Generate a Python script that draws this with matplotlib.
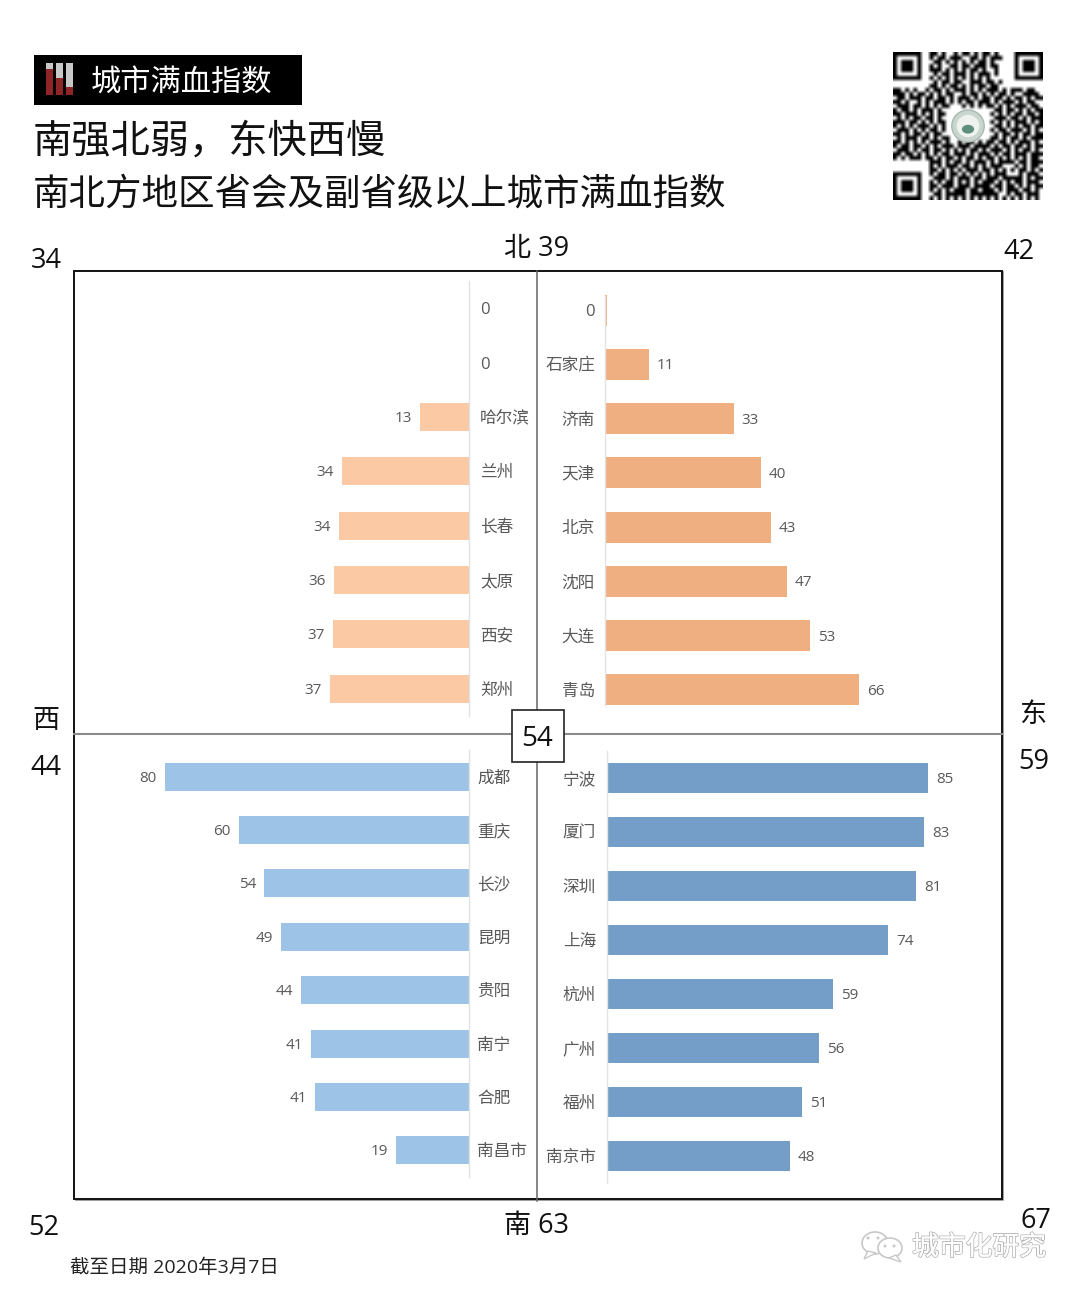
import numpy as np
import matplotlib
matplotlib.use("Agg")
import matplotlib.pyplot as plt
from matplotlib.patches import Rectangle, Ellipse, Polygon
import matplotlib.patheffects as pe

FONT = ["Open Sans", "Noto Sans CJK SC", "DejaVu Sans"]
plt.rcParams["font.family"] = FONT

W, H = 1080, 1294

# 四个象限的数据 (values = 量出的条长, labels = 图上印的数字)
nw_cities = ["0", "0", "哈尔滨", "兰州", "长春", "太原", "西安", "郑州"]
nw_values = [0, 0, 12.9, 33.4, 34.2, 35.5, 35.8, 36.6]
nw_labels = ["", "", "13", "34", "34", "36", "37", "37"]

ne_cities = ["0", "石家庄", "济南", "天津", "北京", "沈阳", "大连", "青岛"]
ne_values = [0.5, 11.4, 33.4, 40.4, 43.1, 47.3, 53.2, 66.0]
ne_labels = ["", "11", "33", "40", "43", "47", "53", "66"]

sw_cities = ["成都", "重庆", "长沙", "昆明", "贵阳", "南宁", "合肥", "南昌市"]
sw_values = [79.8, 60.4, 53.8, 49.3, 44.1, 41.5, 40.4, 19.2]
sw_labels = ["80", "60", "54", "49", "44", "41", "41", "19"]

se_cities = ["宁波", "厦门", "深圳", "上海", "杭州", "广州", "福州", "南京市"]
se_values = [84.3, 83.2, 81.1, 73.8, 59.3, 55.6, 51.2, 48.0]
se_labels = ["85", "83", "81", "74", "59", "56", "51", "48"]

# 外圈指数
corner_texts = [
    ("34", 46, 261), ("北 39", 537, 249), ("42", 1019, 252),
    ("西", 46, 721), ("44", 46, 768), ("东", 1033, 715), ("59", 1034, 762),
    ("52", 44, 1228), ("南 63", 537, 1226), ("67", 1036, 1221),
]

# 标题图标: 三根柱子的红色占比
icon_fill = [0.80, 0.53, 0.26]

# 二维码 (目测, 定位角另外画)
qr_rows = [
    ".........##.#..#.##.#.##.#...........",
    ".........#.##.###..##.#.###..........",
    "..........##.#.#.#.#.##.#............",
    ".........#.#..##.##.###.##...........",
    ".........###.#.#.#.##.#..#...........",
    "..........#.##.###.#.###.#...........",
    ".........#.#.#.#.#.#.#.#.............",
    "..........#.##.##..###.##.#..........",
    ".........##.#.##.#.#.##.##...........",
    "##.#.#..#.##.#.###.#.#.###.#.###.##..",
    "###.#.##.#.#.##..#.##.#.#.##.#..####.",
    ".##.###.##.##.#.###.#.##.##.#.##.#.##",
    "##.#..#.#.###.#.#.##.###.#.###.#.##..",
    ".###.##.#.#.##...#.#.#.##.#.#.###.##.",
    "#.##.#.###.#.............##.##.#.#.##",
    "##.###.#.#.##...........#.#.#.##.##.#",
    ".#.#.##.##.#.............###.##.#.###",
    "###.##.#.#.##...........#.#.#.###.#.#",
    "#.#.#.###.#.#............##.#.#.##.##",
    ".###.#.#.##.#...........#.##.###.#.#.",
    "##.#.##.#.##.............#.##.#.##.##",
    ".#.###.##.#.##..........##.#.##.#.###",
    "##.#.#.#.###.#..#.##.#.##.##.#.###.#.",
    "#.##.##.#.#.###.###.####.#.##.##.#.##",
    ".###.#.##.##.#.#.#.##.#.###.#.#.##.#.",
    "##.##.#.#.#.##.###.#.###.#.##.###.###",
    "#.#.###.##.#.##.#.##.#.##.#.#.#.#.##.",
    ".........###.#.##.#.###.#.####.##.###",
    ".........#.#.###.##.#.#.###...#.#.##.",
    ".........##.#.#.#.###.##.#.#.#.##.#.#",
    ".........#.##.##.#.#.#.#.###...#.###.",
    "..........###.#.###.##.###.#####.#.##",
    ".........#.#.##.#.#.#.###.#.#.##.###.",
    ".........##.###.###.####.##.##.#.#.##",
    ".........#.#.#.###.##.###.#.###.##.#.",
    "..........##.#####.#######..#.##.###.",
    ".........#.#.#.#.#.#.#.#.#.#.#.#.#.#.",
]


def px_axes(fig, left, top, right, bottom):
    """按像素位置建一个坐标轴"""
    return fig.add_axes([left / W, 1 - bottom / H, (right - left) / W, (bottom - top) / H])


def draw_quadrant(fig, box, cities, values, labels, color, bar_px, side, name_x, bound=None):
    """画一个象限的横条图, side 为 left 时条向左伸"""
    ax = px_axes(fig, *box)
    ax.patch.set_alpha(0)
    y = np.arange(len(values))
    band = (box[3] - box[1]) / len(values)
    ax.barh(y, values, height=bar_px / band, color=color, linewidth=0)
    ax.set_ylim(len(values) - 0.5, -0.5)
    ax.set_xlim((100, 0) if side == "left" else (0, 100))
    ax.set_xticks([])
    ax.set_yticks([])
    for s in ax.spines.values():
        s.set_visible(False)

    # 零轴
    axis_spine = ax.spines["right" if side == "left" else "left"]
    axis_spine.set_visible(True)
    axis_spine.set_color("#e2e2e2")
    axis_spine.set_linewidth(1.0)
    if bound:
        axis_spine.set_bounds(*bound)

    origin = box[2] if side == "left" else box[0]
    for i, (v, lab, city) in enumerate(zip(values, labels, cities)):
        if lab:
            gap = -8 if side == "left" else 8
            ax.annotate(lab, xy=(v, i), xytext=(gap, -1.5), textcoords="offset pixels",
                        ha="right" if side == "left" else "left", va="center",
                        fontsize=11, color="#595959")
        ax.annotate(city, xy=(0, i), xytext=(name_x - origin, -2), textcoords="offset pixels",
                    ha="left" if side == "left" else "right", va="center",
                    fontsize=12, color="#595959")
    return ax


def draw_header(fig, bg):
    bg.add_patch(Rectangle((34, 55), 268, 50, color="black", linewidth=0))
    bg.text(91, 84, "城市满血指数", color="white", fontsize=21.8, ha="left", va="center")
    bg.text(33, 143, "南强北弱，东快西慢", color="#111111", fontsize=28.3, ha="left", va="center")
    bg.text(33, 196, "南北方地区省会及副省级以上城市满血指数", color="#111111", fontsize=26.3,
            ha="left", va="center")

    # 小图标
    ax = px_axes(fig, 45, 63, 74, 95)
    ax.bar([0, 1, 2], [1, 1, 1], width=0.7, color="#c8c8c8", linewidth=0)
    ax.bar([0, 1, 2], icon_fill, width=0.7, color="#8f2527", linewidth=0)
    ax.set_xlim(-0.5, 2.5)
    ax.set_ylim(0, 1)
    ax.axis("off")


def draw_qr(fig):
    n = len(qr_rows)
    grid = np.array([[ch == "#" for ch in r.ljust(n, ".")[:n]] for r in qr_rows], dtype=float)

    # 三个定位角
    finder = np.zeros((7, 7))
    finder[[0, -1], :] = 1
    finder[:, [0, -1]] = 1
    finder[2:5, 2:5] = 1
    grid[:8, :8] = 0
    grid[:8, -8:] = 0
    grid[-8:, :8] = 0
    grid[:7, :7] = finder
    grid[:7, -7:] = finder
    grid[-7:, :7] = finder

    ax = px_axes(fig, 893, 52, 1043, 200)
    ax.imshow(1 - grid, cmap="gray", vmin=0, vmax=1, interpolation="bilinear", aspect="auto")
    ax.axis("off")

    # 中间的校徽
    ax.add_patch(Ellipse((18, 18), 8.0, 8.0, facecolor="#c9d6cf", edgecolor="#a9b8b0", linewidth=1))
    ax.add_patch(Ellipse((18, 18), 5.6, 5.6, facecolor="#eef3ef", linewidth=0))
    ax.add_patch(Ellipse((18, 18.8), 3.0, 2.2, facecolor="#5f8f7c", linewidth=0))


def draw_watermark(bg):
    gray = "#c8c8c8"
    bg.add_patch(Ellipse((875, 1243), 26, 22, facecolor="white", edgecolor=gray, linewidth=1.2))
    bg.add_patch(Polygon([[868, 1251], [864, 1259], [876, 1253]], closed=True,
                         facecolor="white", edgecolor=gray, linewidth=1.0))
    bg.add_patch(Ellipse((890, 1248), 24, 20, facecolor="white", edgecolor=gray, linewidth=1.2))
    bg.add_patch(Polygon([[896, 1255], [901, 1262], [889, 1258]], closed=True,
                         facecolor="white", edgecolor=gray, linewidth=1.0))
    for ex, ey in [(868, 1238), (878, 1238), (885, 1246), (894, 1246)]:
        bg.add_patch(Ellipse((ex, ey), 3, 3, color=gray, linewidth=0))
    bg.text(912, 1248, "城市化研究", fontsize=19.3, color="white", ha="left", va="center",
            path_effects=[pe.withStroke(linewidth=1.3, foreground="#b4b4b4"),
                          pe.Normal()])


fig = plt.figure(figsize=(W / 100, H / 100), dpi=100, facecolor="white")

# 整张图的像素坐标层: 框线, 十字, 文字
bg = fig.add_axes([0, 0, 1, 1])
bg.set_xlim(0, W)
bg.set_ylim(H, 0)
bg.axis("off")

# 外框 (右下带一点灰影)
bg.plot([76, 1003, 1003], [1199.5, 1199.5, 272], color="#8c8c8c", linewidth=1.2, zorder=1)
bg.add_patch(Rectangle((74, 271), 928, 927.5, fill=False, edgecolor="#111111", linewidth=1.4, zorder=2))

# 中间十字
bg.plot([537, 537], [271, 1201], color="#666666", linewidth=1.1, zorder=3)
bg.plot([74, 1002], [733.5, 733.5], color="#8c8c8c", linewidth=1.5, zorder=3)
bg.add_patch(Rectangle((511.5, 709.5), 52, 52, facecolor="white", edgecolor="#222222", linewidth=1.2, zorder=4))
bg.text(537.5, 739, "54", fontsize=20, color="#111111", ha="center", va="center", zorder=5)

for txt, x, y in corner_texts:
    bg.text(x, y, txt, fontsize=19.5, color="#111111", ha="center", va="center")

bg.text(70, 1268, "截至日期 2020年3月7日", fontsize=14, color="#222222", ha="left", va="center")

draw_header(fig, bg)
draw_qr(fig)
draw_watermark(bg)

draw_quadrant(fig, (89, 281, 469, 716), nw_cities, nw_values, nw_labels, "#fcc9a5", 28, "left", 480)
draw_quadrant(fig, (605, 283, 990, 717), ne_cities, ne_values, ne_labels, "#f0af80", 31, "right", 595,
              bound=(-0.26, 7.28))
draw_quadrant(fig, (88, 750, 469, 1177), sw_cities, sw_values, sw_labels, "#9dc3e6", 28, "left", 477)
draw_quadrant(fig, (607, 751, 988, 1183), se_cities, se_values, se_labels, "#749ec8", 30, "right", 596)

fig.savefig("out.png", dpi=100)
plt.close(fig)
